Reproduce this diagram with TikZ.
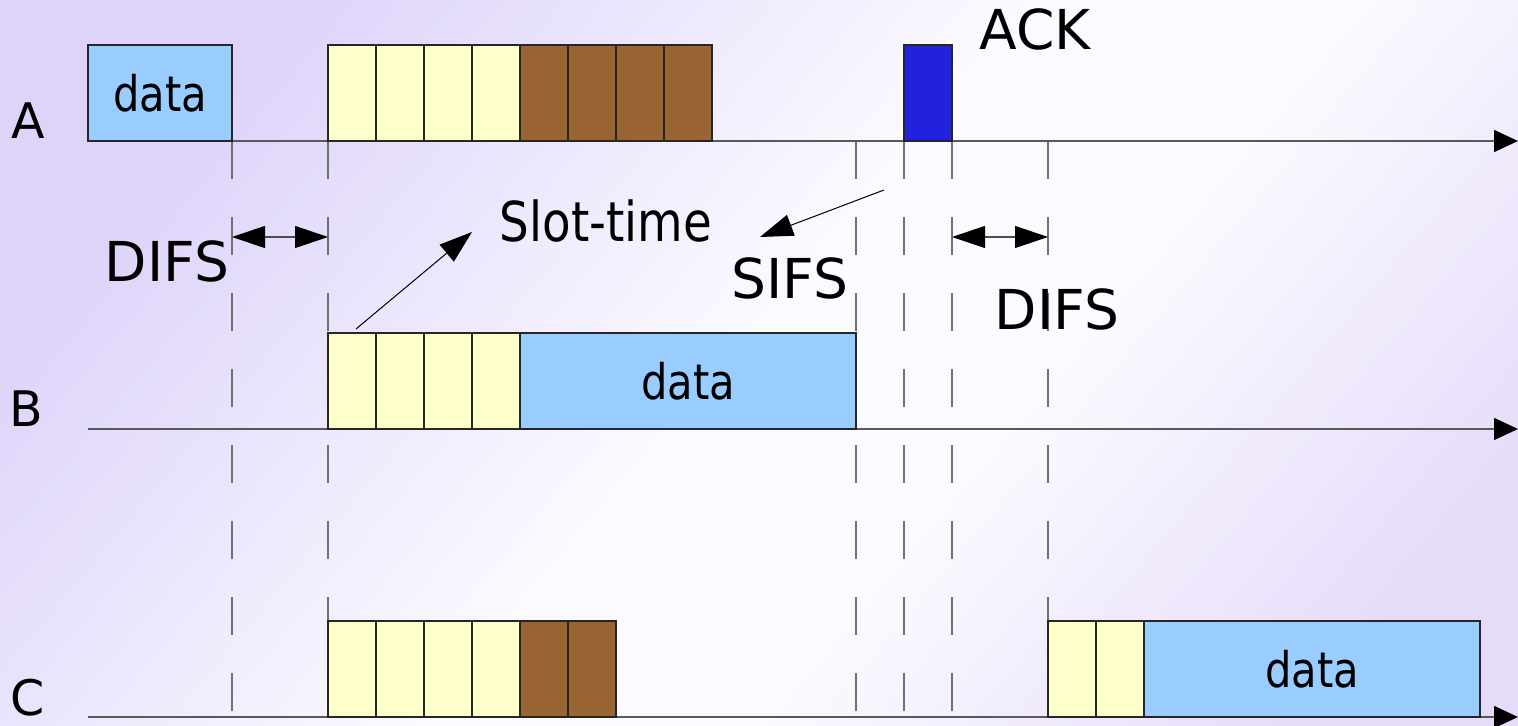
\documentclass[tikz,border=0pt]{standalone}
\usepackage{fontspec}
\setmainfont{DejaVu Sans}
\newfontfamily\narrowsans[FakeStretch=0.85]{DejaVu Sans}
\usepackage{tikz}
\usetikzlibrary{arrows.meta,positioning}

\definecolor{slotyellow}{HTML}{FFFFCC}
\definecolor{slotbrown}{HTML}{996633}
\definecolor{datablue}{HTML}{99CCFF}
\definecolor{ackblue}{HTML}{2222DD}
\definecolor{bgtl}{HTML}{DED4FA}
\definecolor{bgmid}{HTML}{FBFAFF}
\definecolor{bgbr}{HTML}{E6DCFA}
\definecolor{guidegray}{HTML}{707070}

\pgfdeclarehorizontalshading{backdrop}{100bp}{%
  color(0bp)=(bgtl); color(25bp)=(bgtl); color(49bp)=(bgmid);
  color(60bp)=(bgmid); color(78bp)=(bgbr); color(100bp)=(bgbr)}

\newcommand{\stationfont}{\fontsize{24.5}{29}\selectfont}
\newcommand{\notefont}{\fontsize{27.5}{33}\selectfont}

\begin{document}
\begin{tikzpicture}[
    x=0.5pt, y=-0.5pt,
    node distance=0pt,
    >={Triangle[length=16.5pt,width=11pt]},
    block/.style={
		rectangle,
		draw=black!85,
		line width=0.75pt,
		inner sep=0pt,
		outer sep=0pt,
		minimum height=48pt,
		font=\stationfont\narrowsans
	},
    idle/.style={block, fill=slotyellow, minimum width=24pt},
    busy/.style={block, fill=slotbrown, minimum width=24pt},
    ack/.style={block, fill=ackblue, minimum width=24pt},
    dataframe/.style={block, fill=datablue, minimum width=168pt},
    station/.style={font=\stationfont, inner sep=0pt, anchor=base west},
    note/.style={font=\notefont, inner sep=0pt, anchor=base},
    timeline/.style={draw=black!65, line width=0.75pt,
        -{Triangle[length=12pt,width=11pt,color=black]}},
    guide/.style={draw=guidegray, line width=0.6pt, dash pattern=on 19pt off 19pt},
    pointer/.style={draw=black, line width=0.5pt, ->},
    gap/.style={draw=black!70, line width=0.6pt,
        {Triangle[length=16.5pt,width=11pt,color=black]}-{Triangle[length=16.5pt,width=11pt,color=black]}}
  ]
    % background
    \shade[shading=backdrop, shading angle=-40] (0,0) rectangle (1518,726);
    \useasboundingbox (0,0) rectangle (1518,726);

    % time marks shared by all stations
    \foreach \x in {232,328,856,904,952,1048}
        \draw[guide] (\x,141) -- (\x,717);

    % one time axis per station
    \foreach \s/\y in {A/141,B/429,C/717}{
        \coordinate (\s start) at (88,\y);
        \coordinate (\s end) at (1518,\y);
        \draw[timeline] (\s start) -- (\s end);
    }

    \node[station] (stA) at (11,139) {A};
    \node[station] (stB) at (9,427) {B};
    \node[station] (stC) at (10,715) {C};

    % station A
    \node[dataframe, minimum width=72pt, anchor=south west] (dataA) at (88,141) {data};
    \node[idle, anchor=south west] (a1) at (328,141) {};
    \foreach \p/\i in {1/2,2/3,3/4}
        \node[idle, right=of a\p] (a\i) {};
    \foreach \p/\i in {4/5,5/6,6/7,7/8}
        \node[busy, right=of a\p] (a\i) {};
    \node[ack, anchor=south west] (ackA) at (904,141) {};

    % station B
    \node[idle, anchor=south west] (b1) at (328,429) {};
    \foreach \p/\i in {1/2,2/3,3/4}
        \node[idle, right=of b\p] (b\i) {};
    \node[dataframe, right=of b4] (dataB) {data};

    % station C
    \node[idle, anchor=south west] (c1) at (328,717) {};
    \foreach \p/\i in {1/2,2/3,3/4}
        \node[idle, right=of c\p] (c\i) {};
    \foreach \p/\i in {4/5,5/6}
        \node[busy, right=of c\p] (c\i) {};
    \node[idle, anchor=south west] (c7) at (1048,717) {};
    \node[idle, right=of c7] (c8) {};
    \node[dataframe, right=of c8] (dataC) {data};

    % labels
    \node[note] (ackText) at (1035,50) {ACK};
    \node[note, font=\notefont\narrowsans] (slotText) at (606,242) {Slot-time};
    \node[note] (sifsText) at (790,299) {SIFS};
    \node[note] (difsLText) at (167,282) {DIFS};
    \node[note] (difsRText) at (1057,330) {DIFS};

    % intervals and pointers
    \coordinate (difsL1) at (232,237);
    \coordinate (difsL2) at (328,237);
    \coordinate (difsR1) at (952,237);
    \coordinate (difsR2) at (1048,237);
    \draw[gap] (difsL1) -- (difsL2);
    \draw[gap] (difsR1) -- (difsR2);

    \coordinate (slotFrom) at (356,329);
    \coordinate (slotTo) at (472,232);
    \coordinate (sifsFrom) at (884,190);
    \coordinate (sifsTo) at (760,237);
    \draw[pointer] (slotFrom) -- (slotTo);
    \draw[pointer] (sifsFrom) -- (sifsTo);
\end{tikzpicture}
\end{document}
